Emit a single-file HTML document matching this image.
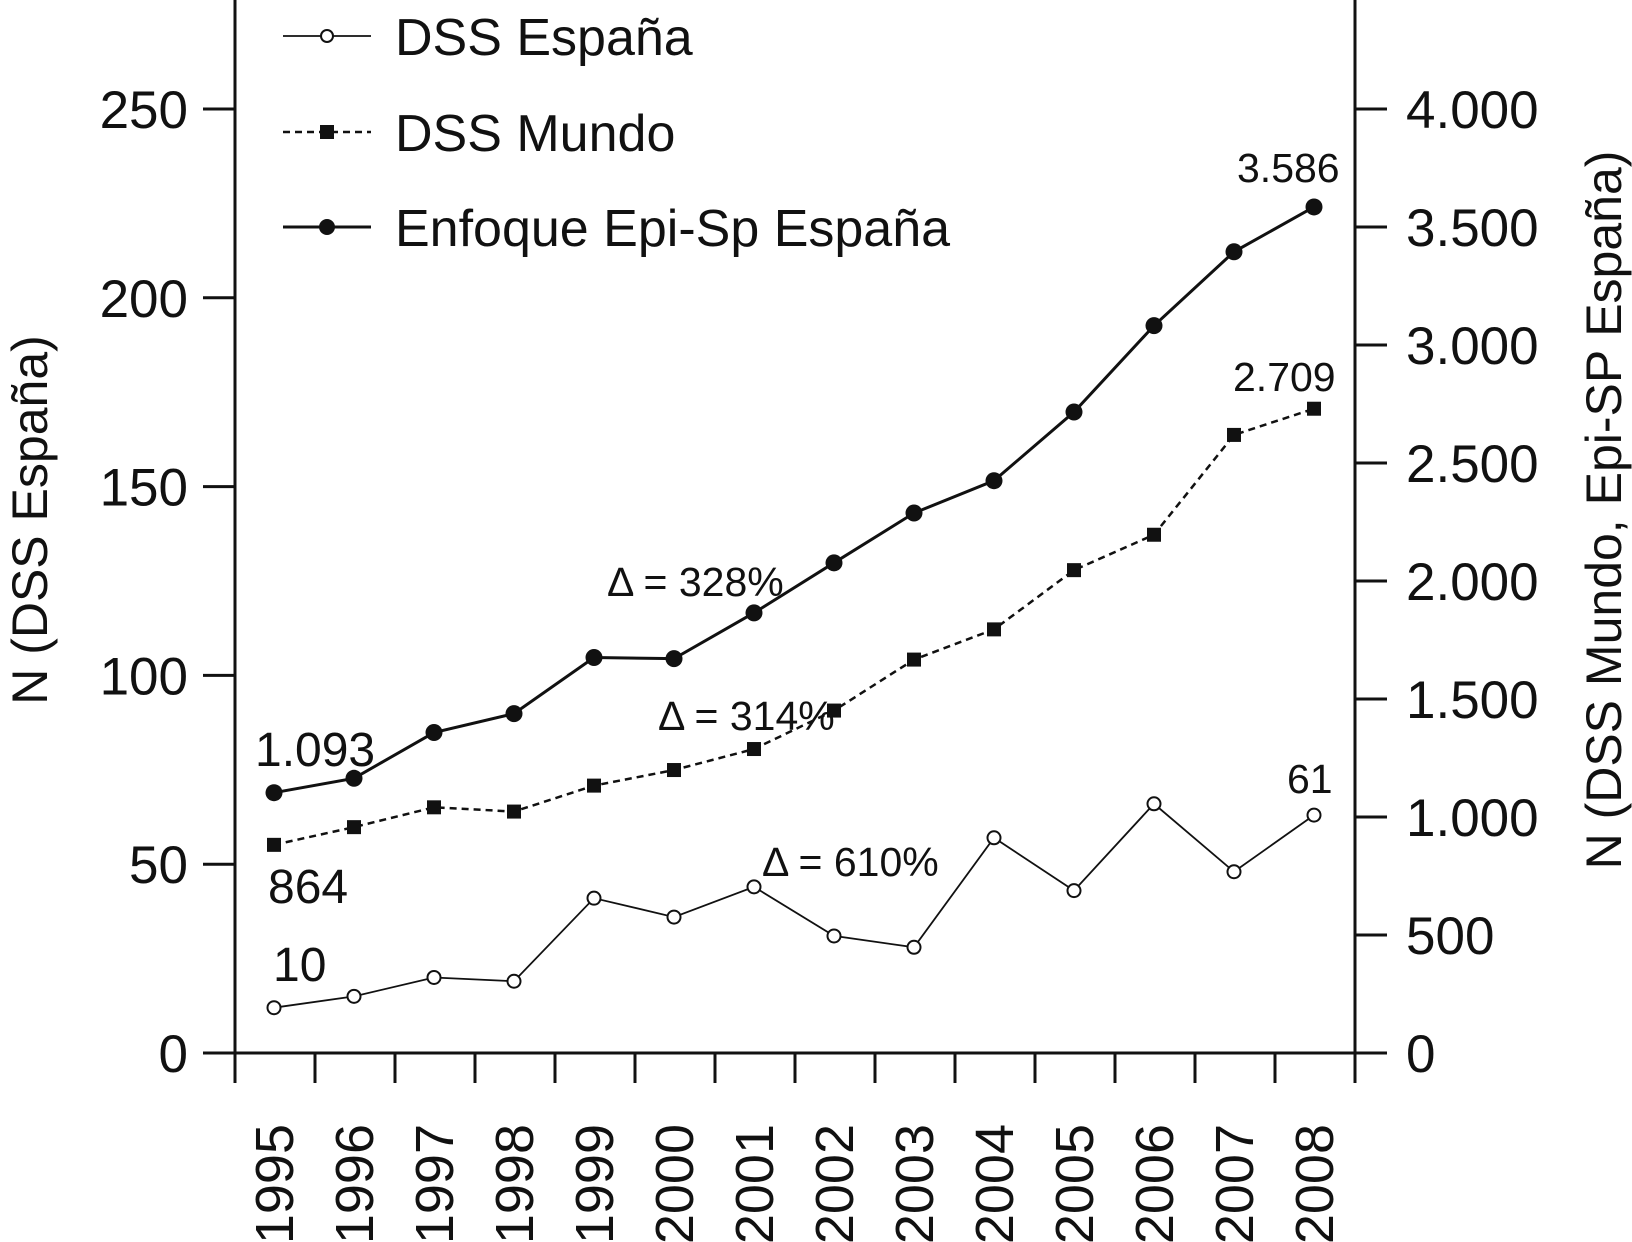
<!DOCTYPE html>
<html><head><meta charset="utf-8"><style>
html,body{margin:0;padding:0;background:#fff}
svg{display:block;font-family:"Liberation Sans",Arial,sans-serif;fill:#111}
</style></head><body>
<svg id="chart" width="1632" height="1242" viewBox="0 0 1632 1242" xmlns="http://www.w3.org/2000/svg">
<g id="axes"></g>
<g id="series"></g>
<g id="legend">
  <line x1="283" y1="36" x2="371" y2="36" stroke="#111" stroke-width="1.8"/>
  <circle cx="327" cy="36" r="6" fill="#fff" stroke="#111" stroke-width="2"/>
  <text x="395" y="55" font-size="52">DSS España</text>
  <line x1="283" y1="132" x2="371" y2="132" stroke="#111" stroke-width="2.5" stroke-dasharray="7,5"/>
  <rect x="320" y="125" width="14" height="14" fill="#111"/>
  <text x="395" y="151" font-size="52">DSS Mundo</text>
  <line x1="283" y1="227" x2="371" y2="227" stroke="#111" stroke-width="3"/>
  <circle cx="327" cy="227" r="8" fill="#111"/>
  <text x="395" y="246" font-size="52">Enfoque Epi-Sp España</text>
</g>
<g id="annotations" font-size="41">
  <text x="255" y="766" font-size="48">1.093</text>
  <text x="268" y="903" font-size="48">864</text>
  <text x="273" y="981" font-size="48">10</text>
  <text x="1287" y="793">61</text>
  <text x="1233" y="391">2.709</text>
  <text x="1237" y="182">3.586</text>
  <text x="607" y="596">Δ = 328%</text>
  <text x="658" y="730">Δ = 314%</text>
  <text x="762" y="876">Δ = 610%</text>
</g>
</svg>
<script>
const years = ["1995","1996","1997","1998","1999","2000","2001","2002","2003","2004","2005","2006","2007","2008"];
const dssEspana = [12,15,20,19,41,36,44,31,28,57,43,66,48,63];
const dssMundo = [882,957,1041,1023,1133,1199,1288,1451,1667,1795,2046,2196,2619,2730];
const epiSp = [1103,1164,1358,1438,1676,1671,1865,2077,2288,2425,2716,3082,3395,3585];
const leftTicks = [0,50,100,150,200,250];
const rightTicks = [0,500,1000,1500,2000,2500,3000,3500,4000];
const rightTickLabels = ["0","500","1.000","1.500","2.000","2.500","3.000","3.500","4.000"];

const NS="http://www.w3.org/2000/svg";
const X0=235, X1=1355, Y0=1053, YTOP=109;
const xPos=i=>X0+39+i*80;
const yL=v=>Y0-(v/250)*(Y0-YTOP);
const yR=v=>Y0-(v/4000)*(Y0-YTOP);
function mk(tag,attrs,parent,text){const e=document.createElementNS(NS,tag);for(const k in attrs)e.setAttribute(k,attrs[k]);if(text!==undefined)e.textContent=text;parent.appendChild(e);return e;}
const axes=document.getElementById('axes'), series=document.getElementById('series');

let e;
e=mk('line',{x1:X0,y1:0,x2:X0,y2:Y0+30,stroke:'#111','stroke-width':3},axes);


e=mk('line',{x1:X1,y1:0,x2:X1,y2:Y0+30,stroke:'#111','stroke-width':3},axes);


e=mk('line',{x1:X0-30,y1:Y0,x2:X1+30,y2:Y0,stroke:'#111','stroke-width':3},axes);


for(let i=0;i<=years.length;i++){mk('line',{x1:X0+i*80,y1:Y0,x2:X0+i*80,y2:Y0+30,stroke:'#111','stroke-width':3},axes);}
years.forEach((y,i)=>{
  e=mk('text',{x:0,y:0,'font-size':54,'text-anchor':'end',transform:`translate(${xPos(i)+19},1124) rotate(-90)`},axes,y);
  
  
});
leftTicks.forEach(v=>{
  mk('line',{x1:X0-32,y1:yL(v),x2:X0,y2:yL(v),stroke:'#111','stroke-width':3},axes);
  e=mk('text',{x:188,y:yL(v)+19,'font-size':53,'text-anchor':'end'},axes,String(v));
  
  
});
rightTicks.forEach((v,i)=>{
  mk('line',{x1:X1,y1:yR(v),x2:X1+32,y2:yR(v),stroke:'#111','stroke-width':3},axes);
  e=mk('text',{x:1406,y:yR(v)+19,'font-size':53},axes,rightTickLabels[i]);
  
  
});
e=mk('text',{x:0,y:0,'font-size':50,'text-anchor':'middle',transform:'translate(47,520) rotate(-90)'},axes,'N (DSS España)');


e=mk('text',{x:0,y:0,'font-size':50,'text-anchor':'middle',transform:'translate(1621,510) rotate(-90)'},axes,'N (DSS Mundo, Epi-SP España)');



function pts(arr,f){return arr.map((v,i)=>xPos(i)+','+f(v)).join(' ');}
e=mk('polyline',{points:pts(dssEspana,yL),fill:'none',stroke:'#111','stroke-width':1.8},series);


e=mk('polyline',{points:pts(dssMundo,yR),fill:'none',stroke:'#111','stroke-width':2.5,'stroke-dasharray':'7,5'},series);


e=mk('polyline',{points:pts(epiSp,yR),fill:'none',stroke:'#111','stroke-width':3},series);


dssEspana.forEach((v,i)=>{
  e=mk('circle',{cx:xPos(i),cy:yL(v),r:6.5,fill:'#fff',stroke:'#111','stroke-width':2},series);
  
  
});
dssMundo.forEach((v,i)=>{
  e=mk('rect',{x:xPos(i)-7,y:yR(v)-7,width:14,height:14,fill:'#111'},series);
  
  
});
epiSp.forEach((v,i)=>{
  e=mk('circle',{cx:xPos(i),cy:yR(v),r:8.5,fill:'#111'},series);
  
  
});
</script>
</body></html>
